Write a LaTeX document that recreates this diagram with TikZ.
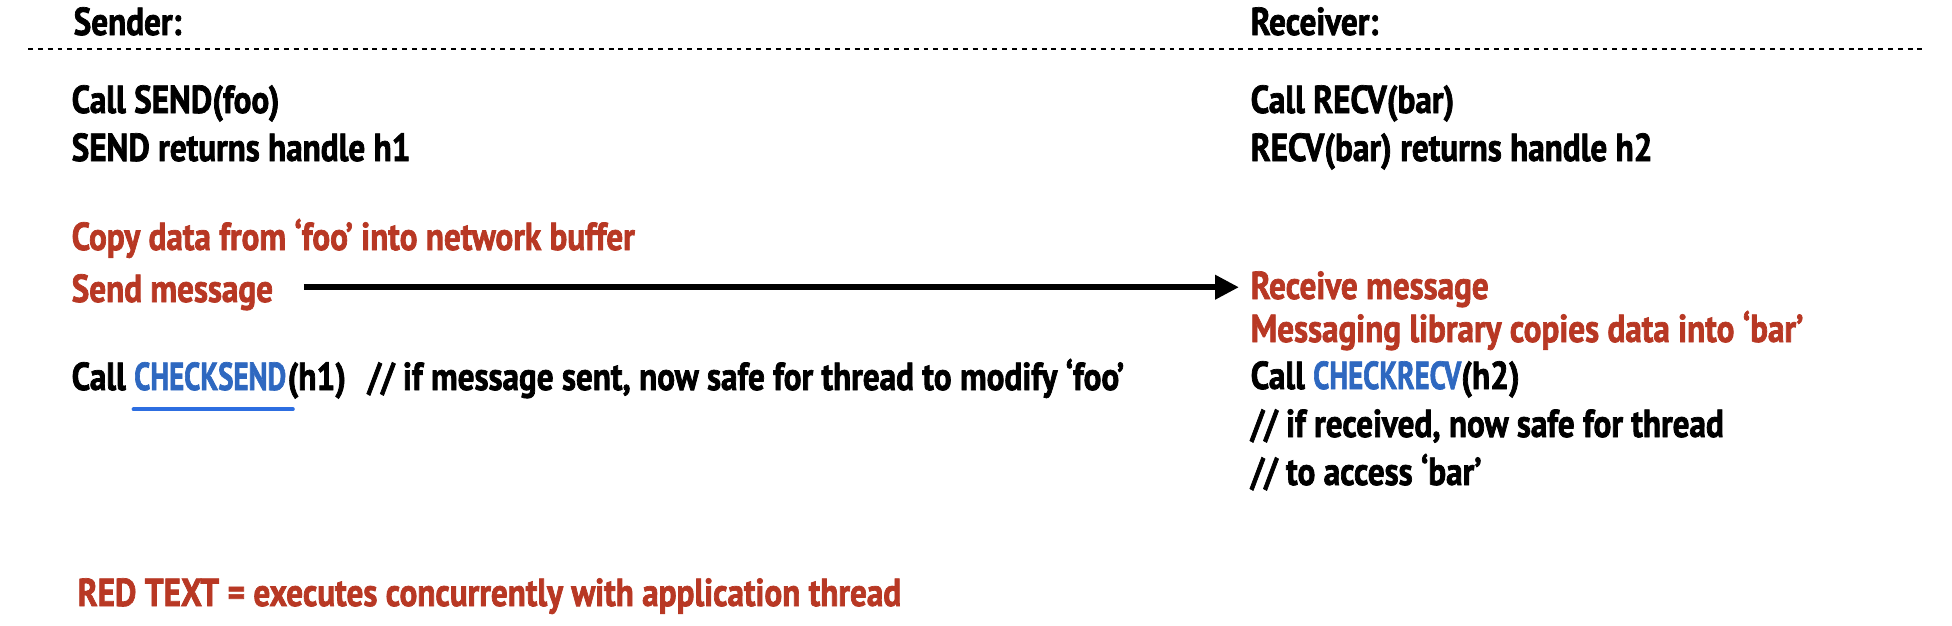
\documentclass[tikz,border=0pt]{standalone}
\usepackage{fontspec}
\usepackage{graphicx}
\setmainfont{PT Sans}[FakeStretch=0.85, BoldFeatures={FakeBold=1.8}]
\usetikzlibrary{arrows.meta}
\definecolor{concred}{HTML}{B83824}
\definecolor{callblue}{HTML}{2E68C0}
\definecolor{lineblue}{HTML}{2D6EE1}
\newcommand{\apicall}[1]{\textcolor{callblue}{\scalebox{0.87}[1]{#1}}}

\begin{document}
\begin{tikzpicture}[
    txt/.style={anchor=base west, inner sep=0pt, font=\fontsize{11.1}{13}\selectfont\bfseries},
    async/.style={txt, text=concred},
    msgarrow/.style={line width=1.7pt, -{Triangle[length=6.8pt,width=6.6pt]}},
    divider/.style={line width=0.8pt, dash pattern=on 1.4pt off 1.4pt},
    underln/.style={lineblue, line width=1.1pt, line cap=round}
]
    \useasboundingbox (0,0) rectangle (19.52,6.25);

    % Define the positions of the nodes
    \node[txt] (sender) at (0.73,5.90) {Sender:};
    \node[txt] (receiver) at (12.50,5.90) {Receiver:};
    \coordinate (divl) at (0.28,5.76);
    \coordinate (divr) at (19.25,5.76);

    % sender side
    \node[txt] (send) at (0.71,5.12) {Call SEND(foo)};
    \node[txt] (h1) at (0.71,4.64) {SEND returns handle h1};
    \node[async] (copy) at (0.71,3.75) {Copy data from ‘foo’ into network buffer};
    \node[async] (sendmsg) at (0.71,3.23) {Send message};
    \node[txt] (call) at (0.71,2.35) {Call};
    \node[txt] (chksend) at ([xshift=0.07cm]call.base east) {\apicall{CHECKSEND}};
    \node[txt] (chkrest) at (chksend.base east) {(h1)\hspace{0.55em}// if message sent, now safe for thread to modify ‘foo’};

    % receiver side
    \node[txt] (recv) at (12.50,5.12) {Call RECV(bar)};
    \node[txt] (h2) at (12.50,4.64) {RECV(bar) returns handle h2};
    \node[async] (recvmsg) at (12.50,3.26) {Receive message};
    \node[async] (msglib) at (12.50,2.83) {Messaging library copies data into ‘bar’};
    \node[txt] (chkrecv) at (12.50,2.36) {Call \apicall{CHECKRECV}(h2)};
    \node[txt] (cmt1) at (12.50,1.88) {// if received, now safe for thread};
    \node[txt] (cmt2) at (12.50,1.40) {// to access ‘bar’};

    \node[async] (legend) at (0.77,0.19) {RED TEXT = executes concurrently with application thread};

    % Draw the edges
    \draw[divider] (divl) -- (divr);
    \draw[msgarrow, shorten <=0.30cm, shorten >=0.11cm] ([yshift=0.05cm]sendmsg.east) -- ([yshift=0.05cm]sendmsg.east -| recvmsg.west);
    \draw[underln] ([yshift=-0.18cm]chksend.south west) -- ([xshift=0.06cm,yshift=-0.18cm]chksend.south east);
\end{tikzpicture}
\end{document}
